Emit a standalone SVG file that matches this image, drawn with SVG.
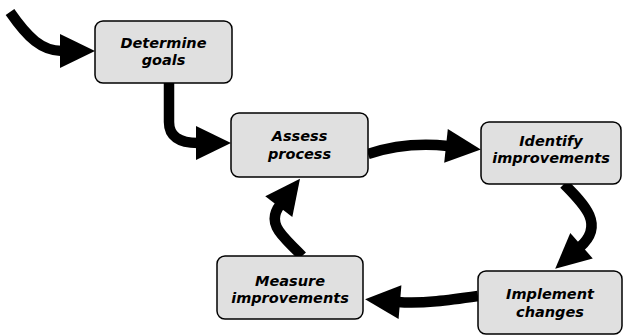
<svg xmlns="http://www.w3.org/2000/svg" width="623" height="335" viewBox="0 0 623 335">
<style>
.box{fill:#e0e0e0;stroke:#000;stroke-width:1.5}
.lbl{font-family:"DejaVu Sans",Verdana,sans-serif;font-weight:bold;font-style:italic;font-size:14.5px;fill:#000;text-anchor:middle}
.arr{fill:none;stroke:#000;stroke-width:10.5;marker-end:url(#head)}
</style>
<defs>
<marker id="head" markerUnits="userSpaceOnUse" markerWidth="38" markerHeight="38" viewBox="-3 -19 38 38" refX="0" refY="0" orient="auto">
<path d="M-2,-17 L33,0 L-2,17 Z" fill="#000"/>
</marker>
</defs>
<rect width="623" height="335" fill="#fff"/>
<g id="connectors">
<path class="arr" d="M10,12 C28,38 42,51 62,51"/>
<path class="arr" d="M169,83 L169,122 Q169,143 198,143"/>
<path class="arr" d="M368,154 C395,145 420,143 448,146"/>
<path class="arr" d="M564,184 C585,205 605,225 580,247"/>
<path class="arr" d="M478,296 C450,300 422,304 398,302"/>
<path class="arr" d="M302,256 C288,240 264,226 280,205"/>
</g>
<g id="determine">
<rect class="box" x="95" y="21" width="137" height="62" rx="8"/>
<text class="lbl" x="163.5" y="48">Determine</text>
<text class="lbl" x="163.5" y="65">goals</text>
</g>
<g id="assess">
<rect class="box" x="231" y="113" width="137" height="64" rx="8"/>
<text class="lbl" x="299.5" y="141">Assess</text>
<text class="lbl" x="299.5" y="159">process</text>
</g>
<g id="identify">
<rect class="box" x="481" y="122" width="140" height="62" rx="8"/>
<text class="lbl" x="551" y="146">Identify</text>
<text class="lbl" x="551" y="163">improvements</text>
</g>
<g id="measure">
<rect class="box" x="217" y="256" width="146" height="63" rx="8"/>
<text class="lbl" x="290" y="286">Measure</text>
<text class="lbl" x="290" y="303">improvements</text>
</g>
<g id="implement">
<rect class="box" x="478" y="271" width="144" height="63" rx="8"/>
<text class="lbl" x="550" y="299">Implement</text>
<text class="lbl" x="550" y="317">changes</text>
</g>
</svg>
